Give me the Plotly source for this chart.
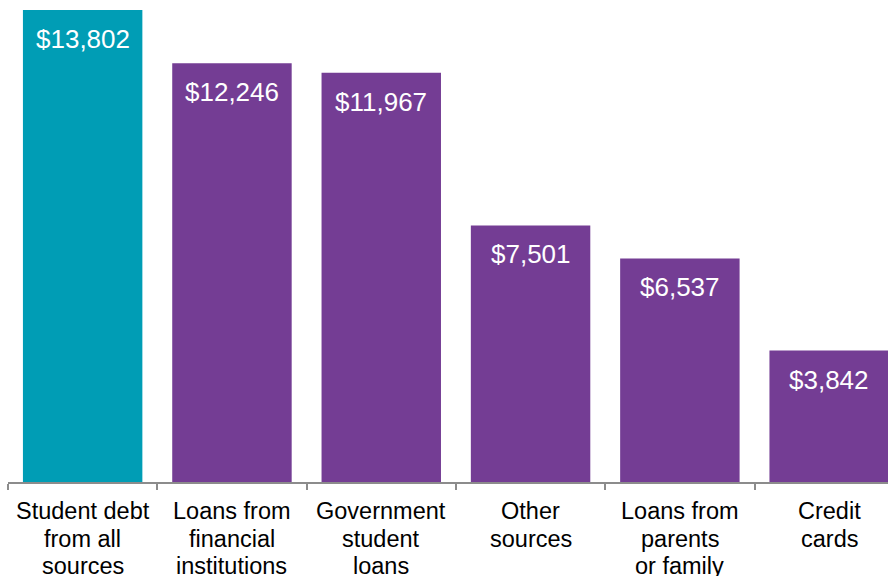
import plotly.graph_objects as go

# Average debt by source
categories = [
    "Student debt<br>from all<br>sources",
    "Loans from<br>financial<br>institutions",
    "Government<br>student<br>loans",
    "Other<br>sources",
    "Loans from<br>parents<br>or family",
    "Credit<br>cards",
]
values = [13802, 12246, 11967, 7501, 6537, 3842]
bar_colors = ["#009DB5", "#743D94", "#743D94", "#743D94", "#743D94", "#743D94"]

FONT = "Liberation Sans, Arial, sans-serif"
positions = list(range(len(categories)))

fig = go.Figure(
    go.Bar(
        x=positions,
        y=values,
        marker=dict(color=bar_colors, line=dict(width=0)),
        width=0.8,
        hoverinfo="skip",
    )
)

annotations = []
# value labels inside the top of each bar
for i, v in zip(positions, values):
    annotations.append(dict(
        x=i, y=v, xref="x", yref="y",
        text=f"${v:,}", showarrow=False,
        yanchor="middle", yshift=-29,
        font=dict(family=FONT, size=26, color="white"),
    ))

# category labels below the axis, one line at a time
LINE_GAP = 27.5
for i, cat in zip(positions, categories):
    for k, line in enumerate(cat.split("<br>")):
        annotations.append(dict(
            x=i, y=0, xref="x", yref="y",
            text=line, showarrow=False,
            yanchor="middle", yshift=-29 - k * LINE_GAP,
            font=dict(family=FONT, size=23.5, color="black"),
        ))

fig.update_layout(
    width=888, height=576,
    margin=dict(l=8, r=0, t=0, b=94),
    paper_bgcolor="white", plot_bgcolor="white",
    showlegend=False,
    bargap=0.2,
    annotations=annotations,
    xaxis=dict(
        range=[-0.5, 5.394],
        tickvals=[p - 0.5 for p in positions],
        showticklabels=False,
        ticks="outside", ticklen=6, tickwidth=1.5, tickcolor="#8C8C8C",
        showline=True, linecolor="#8C8C8C", linewidth=1.5,
        showgrid=False, zeroline=False, fixedrange=True,
    ),
    yaxis=dict(
        range=[0, 14094],
        visible=False, showgrid=False, zeroline=False, fixedrange=True,
    ),
)

fig.write_html("out.html", config={"displayModeBar": False})
